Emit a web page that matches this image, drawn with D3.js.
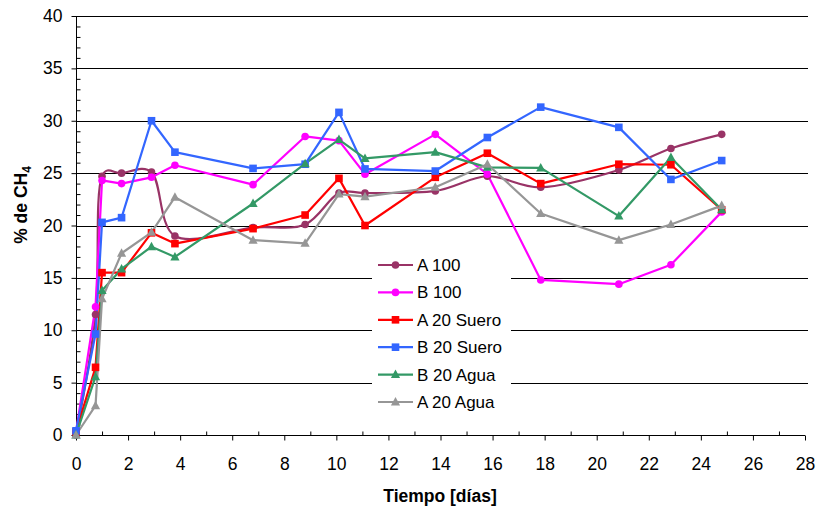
<!DOCTYPE html>
<html><head><meta charset="utf-8">
<script src="https://cdn.jsdelivr.net/npm/d3@7"></script>
<style>body{margin:0;background:#fff}svg{display:block;font-family:"Liberation Sans",Arial,sans-serif}</style>
</head><body><svg id="c" width="818" height="506"></svg>
<script>
const days = [0, 0.75, 1, 1.75, 2.9, 3.8, 6.8, 8.8, 10.1, 11.1, 13.8, 15.8, 17.85, 20.85, 22.85, 24.8];
const a100 = [0, 11.5, 24.7, 25.0, 25.1, 19.0, 19.8, 20.1, 23.1, 23.1, 23.3, 24.7, 23.65, 25.3, 27.35, 28.7];
const b100 = [0.3, 12.25, 24.3, 24.0, 24.6, 25.75, 23.9, 28.5, 28.1, 24.9, 28.7, 24.9, 14.8, 14.4, 16.25, 21.3];
const a20Suero = [0.3, 6.46, 15.5, 15.5, 19.3, 18.27, 19.7, 21.0, 24.5, 20.0, 24.6, 26.9, 24.0, 25.85, 25.8, 21.5];
const b20Suero = [0.4, 9.64, 20.3, 20.75, 30.0, 27.0, 25.45, 25.85, 30.8, 25.4, 25.2, 28.4, 31.3, 29.37, 24.4, 26.2];
const b20Agua = [0, 5.57, 13.8, 15.85, 17.98, 17.0, 22.1, 25.9, 28.2, 26.4, 27.0, 25.55, 25.5, 20.9, 26.5, 21.5];
const a20Agua = [0, 2.8, 13.0, 17.35, 19.35, 22.7, 18.6, 18.3, 23.0, 22.75, 23.65, 25.85, 21.15, 18.6, 20.1, 21.9];
const seriesNames = ["A 100", "B 100", "A 20 Suero", "B 20 Suero", "B 20 Agua", "A 20 Agua"];
const xTicks = d3.range(0, 29, 2);
const yTicks = d3.range(0, 41, 5);

const series = [
  {name: seriesNames[0], vals: a100, color: "#993366", marker: "circle", smooth: true},
  {name: seriesNames[1], vals: b100, color: "#FF00FF", marker: "circle"},
  {name: seriesNames[2], vals: a20Suero, color: "#FF0000", marker: "square"},
  {name: seriesNames[3], vals: b20Suero, color: "#3366FF", marker: "square"},
  {name: seriesNames[4], vals: b20Agua, color: "#339966", marker: "triangle"},
  {name: seriesNames[5], vals: a20Agua, color: "#969696", marker: "triangle"}
];

const FONT = '"Liberation Sans",Arial,sans-serif';
const svg = d3.select("#c");
const L = 76, T = 16, R = 805, B = 435;
const x = d3.scaleLinear().domain([0, 28]).range([L, R]);
const y = d3.scaleLinear().domain([0, 40]).range([B, T]);

// gridlines
svg.append("g").selectAll("line").data(yTicks.filter(d => d > 0)).join("line")
  .attr("x1", L).attr("x2", R + 3).attr("y1", d => Math.round(y(d)) + 0.5).attr("y2", d => Math.round(y(d)) + 0.5)
  .attr("stroke", "#000").attr("stroke-width", 1);

// axes
const gy = svg.append("g").attr("transform", `translate(${L + 0.5},0)`)
  .call(d3.axisLeft(y).tickValues(yTicks).tickSize(5).tickPadding(9));
const gyMinor = svg.append("g").attr("transform", `translate(${L + 0.5},0)`)
  .call(d3.axisRight(y).tickValues(d3.range(0, 41, 1).filter(d => d % 5 !== 0)).tickSize(4).tickFormat(""));
gyMinor.select(".domain").remove();
const gx = svg.append("g").attr("transform", `translate(0,${B + 0.5})`)
  .call(d3.axisBottom(x).tickValues(xTicks).tickSize(5).tickPadding(17));
const gxMinor = svg.append("g").attr("transform", `translate(0,${B + 0.5})`)
  .call(d3.axisTop(x).tickValues(d3.range(1, 28, 2)).tickSize(4).tickFormat(""));
gxMinor.select(".domain").remove();
[gy, gx].forEach(g => {
  g.select(".domain").attr("stroke", "#000");
  g.selectAll("text").attr("font-size", 17.5).attr("fill", "#000").attr("font-family", FONT);
});
svg.selectAll(".tick line").attr("stroke", "#000");
gx.select(".domain").attr("d", `M${L},0H${R}`);
gy.select(".domain").attr("d", `M0,${B}V${T}`);

// titles
svg.append("text").attr("x", 440).attr("y", 502).attr("text-anchor", "middle")
  .attr("font-size", 17.5).attr("font-weight", "bold").text("Tiempo [días]");
const yt = svg.append("text").attr("transform", "translate(27,205) rotate(-90)").attr("text-anchor", "middle")
  .attr("font-size", 17.5).attr("font-weight", "bold");
yt.append("tspan").text("% de CH");
yt.append("tspan").attr("font-size", 12).attr("dy", 4).text("4");

// lines
series.forEach(s => {
  const pts = days.map((d, i) => [d, s.vals[i]]);
  const line = d3.line().x(d => x(d[0])).y(d => y(d[1]))
    .curve(s.smooth ? d3.curveCatmullRom.alpha(0.25) : d3.curveLinear);
  svg.append("path").datum(pts).attr("d", line).attr("fill", "none")
    .attr("stroke", s.color).attr("stroke-width", 2.2).attr("stroke-linejoin", "round");
});

function drawMarker(g, type, cx, cy, color) {
  if (type === "circle") g.append("circle").attr("cx", cx).attr("cy", cy).attr("r", 3.8).attr("fill", color);
  else if (type === "square") g.append("rect").attr("x", cx - 3.8).attr("y", cy - 3.8).attr("width", 7.6).attr("height", 7.6).attr("fill", color);
  else g.append("path").attr("d", `M${cx},${cy - 5}L${cx + 4.6},${cy + 3.5}L${cx - 4.6},${cy + 3.5}Z`).attr("fill", color);
}
series.forEach(s => {
  const g = svg.append("g");
  days.forEach((d, i) => drawMarker(g, s.marker, x(d), y(s.vals[i]), s.color));
});

// legend
const lg = svg.append("g");
lg.append("rect").attr("x", 372).attr("y", 251).attr("width", 139).attr("height", 164).attr("fill", "#fff");
series.forEach((s, i) => {
  const cy = 265 + i * 27.4;
  lg.append("line").attr("x1", 378).attr("x2", 413).attr("y1", cy).attr("y2", cy)
    .attr("stroke", s.color).attr("stroke-width", 2.2);
  drawMarker(lg, s.marker, 395.5, cy, s.color);
  lg.append("text").attr("x", 417).attr("y", cy + 6).attr("font-size", 17).attr("fill", "#000").text(s.name);
});
</script></body></html>
